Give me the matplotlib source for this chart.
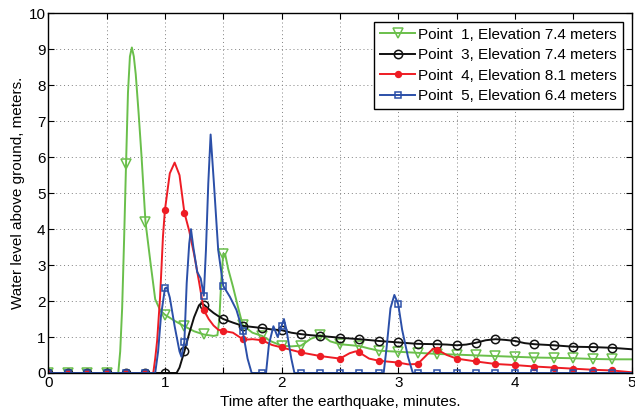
#!/usr/bin/python
# -*- encoding: utf-8 -*-
import numpy as np
import matplotlib as mpl
import matplotlib.pyplot as plt

mpl.rcParams['font.family'] = ['Liberation Sans', 'DejaVu Sans']

# time in seconds after the earthquake, water level in meters
t_p1 = [0, 10, 20, 30, 36, 37, 38, 39, 40, 41, 42, 43, 44, 45, 46.5, 48, 50,
        52.5, 55, 57.5, 60, 65, 70, 75, 80, 85, 87, 88, 89, 90, 91, 92.5, 95,
        97.5, 100, 105, 110, 115, 120, 125, 130, 135, 140, 142.5, 145, 150,
        160, 165, 170, 180, 190, 200, 210, 220, 230, 240, 250, 260, 270, 280,
        290, 300]
h_p1 = [0, 0, 0, 0, 0, 0.6, 1.8, 3.7, 5.8, 7.8, 8.8, 9.05, 8.8, 8.3, 7.2, 6.0,
        4.2, 3.1, 2.05, 1.75, 1.62, 1.45, 1.3, 1.16, 1.07, 1.03, 1.05, 1.5,
        2.6, 3.32, 3.3, 2.9, 2.4, 1.85, 1.33, 1.12, 1.03, 0.87, 0.76, 0.74,
        0.76, 0.95, 1.05, 0.98, 0.88, 0.8, 0.75, 0.68, 0.62, 0.59, 0.56, 0.53,
        0.51, 0.49, 0.47, 0.45, 0.43, 0.42, 0.41, 0.39, 0.38, 0.38]

t_p3 = [0, 10, 20, 30, 40, 50, 60, 66, 67.5, 70, 72.5, 75, 77.5, 78.5, 80,
        82.5, 85, 87.5, 90, 95, 100, 105, 110, 115, 120, 125, 130, 135, 140,
        150, 160, 170, 180, 190, 200, 205, 210, 215, 220, 225, 230, 235, 240,
        245, 250, 260, 270, 280, 290, 300]
h_p3 = [0, 0, 0, 0, 0, 0, 0, 0, 0.15, 0.6, 1.1, 1.55, 1.88, 1.93, 1.9, 1.78,
        1.67, 1.58, 1.5, 1.4, 1.31, 1.28, 1.25, 1.21, 1.19, 1.12, 1.08, 1.05,
        1.03, 0.98, 0.94, 0.89, 0.85, 0.81, 0.8, 0.79, 0.77, 0.79, 0.84, 0.91,
        0.94, 0.92, 0.89, 0.83, 0.8, 0.77, 0.73, 0.72, 0.70, 0.66]

t_p4 = [0, 10, 20, 30, 40, 50, 54, 55, 56, 57.5, 59, 60, 62.5, 65, 67.5, 70,
        72.5, 75, 77.5, 80, 82.5, 85, 87.5, 90, 95, 100, 102.5, 105, 110, 115,
        120, 130, 140, 150, 155, 158, 160, 165, 170, 180, 185, 190, 195, 198,
        200, 205, 210, 220, 230, 240, 250, 260, 270, 280, 290, 300]
h_p4 = [0, 0, 0, 0, 0, 0, 0, 0.4, 0.9, 2.1, 3.8, 4.53, 5.55, 5.85, 5.5, 4.46,
        3.95, 3.3, 2.55, 1.75, 1.5, 1.32, 1.2, 1.17, 1.12, 0.94, 0.93, 0.94,
        0.91, 0.78, 0.71, 0.57, 0.47, 0.4, 0.55, 0.6, 0.57, 0.4, 0.34, 0.29,
        0.24, 0.25, 0.52, 0.68, 0.65, 0.5, 0.4, 0.32, 0.25, 0.22, 0.18, 0.15,
        0.12, 0.09, 0.07, 0.02]

t_p5 = [0, 10, 20, 30, 40, 50, 55, 56.5, 58, 60, 61, 62.5, 65, 67.5, 68.5, 70,
        71.2, 72.5, 73.4, 74.6, 76.6, 78.4, 80, 81.1, 82.3, 83.5, 85.2, 87.4,
        90, 93.4, 96.8, 100, 102.5, 104.6, 110, 112, 113.5, 115.8, 118, 120,
        121.2, 122.5, 125, 126.6, 130, 140, 150, 160, 170, 172.5, 174, 176,
        178, 180, 182, 185, 187.5, 190, 200, 210, 220, 230, 240, 250, 260,
        270, 280, 290, 300]
h_p5 = [0, 0, 0, 0, 0, 0, 0, 0.6, 1.6, 2.35, 2.38, 2.1, 1.3, 0.6, 0.45, 0.87,
        2.5, 3.6, 4.0, 3.5, 2.81, 2.63, 2.15, 3.42, 5.27, 6.63, 5.27, 3.42,
        2.42, 2.12, 1.75, 1.17, 0.4, 0, 0, 0, 0.8, 1.3, 1.0, 1.31, 1.5, 1.2,
        0.4, 0, 0, 0, 0, 0, 0, 0, 0.7, 1.8, 2.17, 1.91, 1.2, 0.45, 0, 0, 0, 0,
        0, 0, 0, 0, 0, 0, 0, 0, 0]

labels = ['Point  1, Elevation 7.4 meters',
          'Point  3, Elevation 7.4 meters',
          'Point  4, Elevation 8.1 meters',
          'Point  5, Elevation 6.4 meters']


def marks(t):
    # a marker every 10 seconds
    return [i for i, s in enumerate(t) if s % 10 == 0 and s < 300]


if __name__ == '__main__':
    fig = plt.figure(figsize=(6.35, 4.12), dpi=100)
    ax = fig.add_axes([0.076, 0.0947, 0.9186, 0.873])

    series = [
        (t_p1, h_p1, '#6abf4b', dict(marker='v', ms=6.5, mfc='none')),
        (t_p3, h_p3, '#111111', dict(marker='o', ms=6, mfc='none')),
        (t_p4, h_p4, '#ee1c24', dict(marker='o', ms=4.2, mfc='#ee1c24')),
        (t_p5, h_p5, '#2b4fa8', dict(marker='s', ms=4.5, mfc='none')),
    ]
    for (t, h, c, m), lab in zip(series, labels):
        ax.plot(np.array(t) / 60.0, h, color=c, lw=1.4, mec=c, mew=1.1,
                markevery=marks(t), label=lab, **m)

    ax.set_xlim(0, 5)
    ax.set_ylim(0, 10)
    xt = np.arange(0, 5.01, 0.5)
    ax.set_xticks(xt)
    ax.set_xticklabels(['%d' % v if v == int(v) else '' for v in xt])
    ax.set_yticks(np.arange(0, 11, 1))
    ax.tick_params(direction='in', top=True, right=True, length=4,
                   width=0.8, labelsize=11, pad=2)
    for sp in ax.spines.values():
        sp.set_linewidth(1.0)
    ax.grid(True, linestyle=(0, (1, 3)), color='0.5', linewidth=0.7)

    ax.set_xlabel('Time after the earthquake, minutes.', fontsize=11,
                  labelpad=3.5)
    ax.set_ylabel('Water level above ground, meters.', fontsize=11,
                  labelpad=2.5)

    leg = ax.legend(loc='upper right', fontsize=11, fancybox=False,
                    framealpha=1, edgecolor='black', handlelength=2.3,
                    handletextpad=0.2, labelspacing=0.42, borderaxespad=0.55,
                    borderpad=0.4)
    leg.get_frame().set_linewidth(1.0)

    fig.savefig('out.png', dpi=100)
